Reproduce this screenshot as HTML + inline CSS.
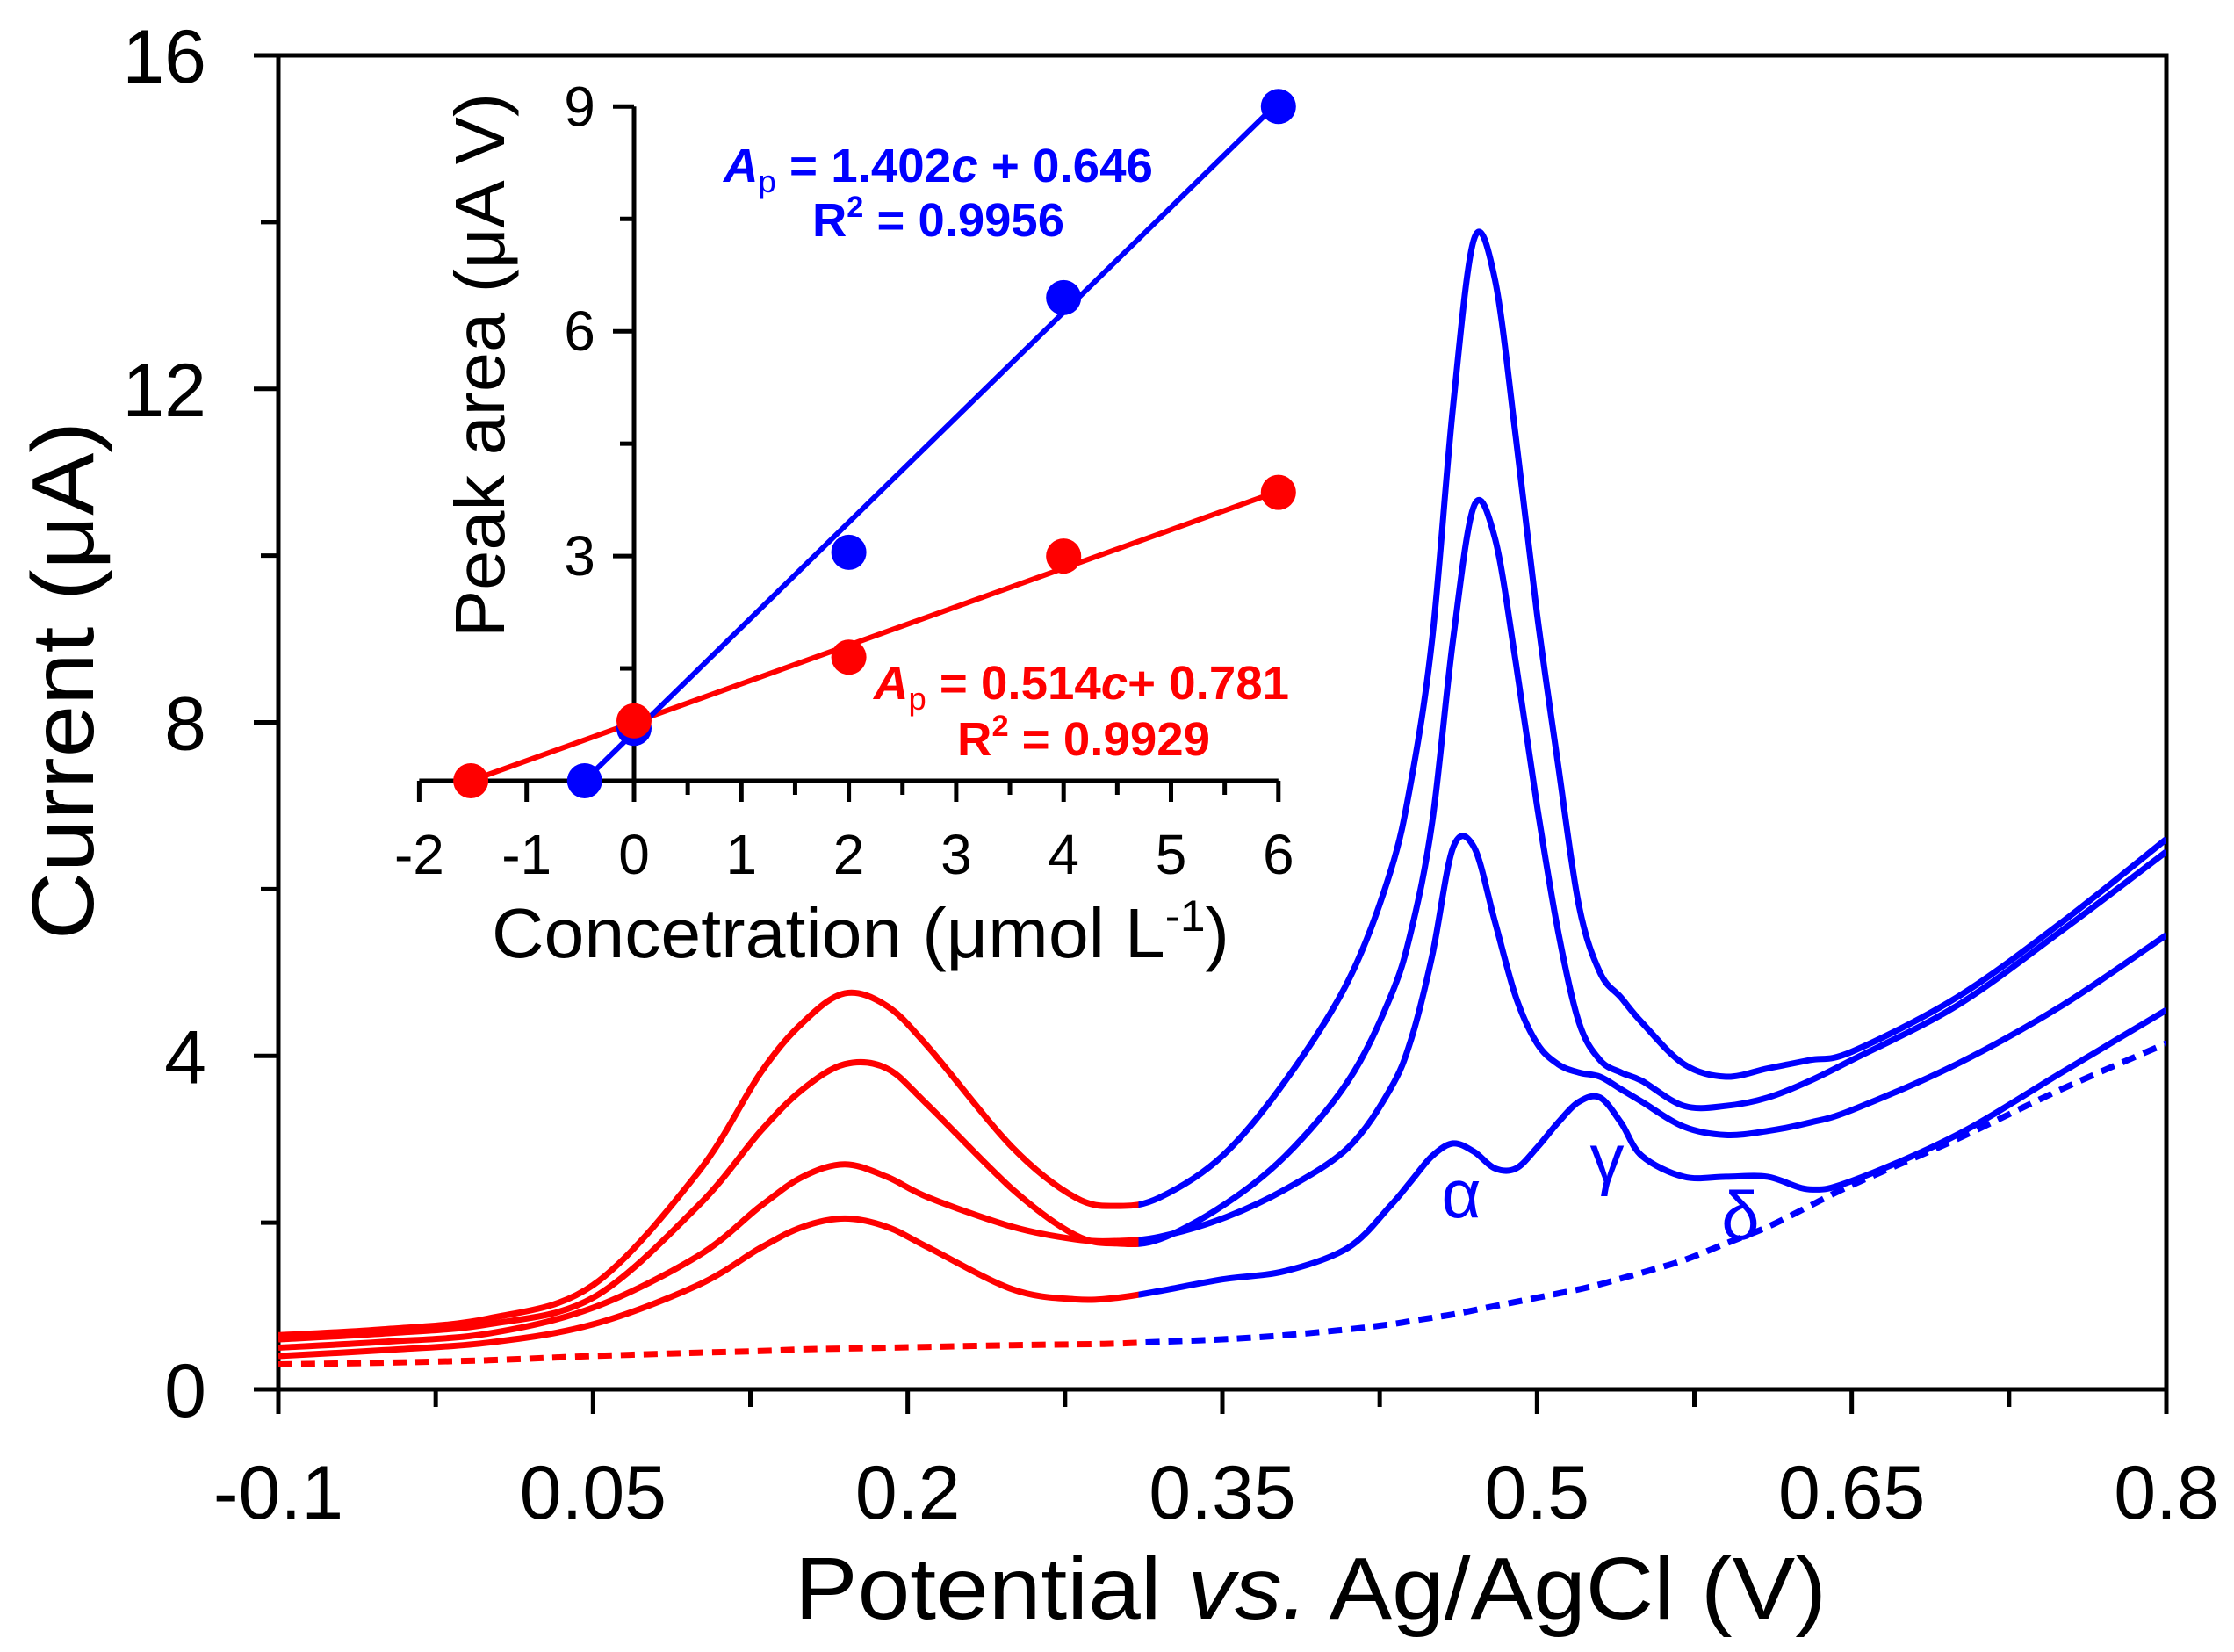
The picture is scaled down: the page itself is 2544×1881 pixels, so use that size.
<!DOCTYPE html>
<html><head><meta charset="utf-8"><style>
html,body{margin:0;padding:0;background:#fff;}
svg{display:block;font-family:"Liberation Sans",Arial,sans-serif;}
</style></head><body>
<svg id="chart" width="2544" height="1881" viewBox="0 0 2544 1881" xmlns="http://www.w3.org/2000/svg">
<g id="main-axes"></g>
<g id="main-series"></g>
<g id="inset"></g>
<text transform="translate(106,775) rotate(-90)" text-anchor="middle" font-size="100" textLength="590" lengthAdjust="spacingAndGlyphs">Current (μA)</text>
<text x="905" y="1843" font-size="100" textLength="1175" lengthAdjust="spacingAndGlyphs">Potential <tspan font-style="italic">vs.</tspan> Ag/AgCl (V)</text>
<text x="1664" y="1386" font-size="78" fill="#0000ff" text-anchor="middle">α</text>
<text x="1830" y="1346" font-size="78" fill="#0000ff" text-anchor="middle">γ</text>
<text x="1982" y="1411" font-size="78" fill="#0000ff" text-anchor="middle">δ</text>
</svg>
<script>
// ---- main chart data ----
const potentials = [-0.1,-0.05,0,0.05,0.1,0.13,0.15,0.17,0.19,0.21,0.25,0.28,0.3,0.32,0.35,0.38,0.41,0.43,0.44,0.45,0.46,0.47,0.48,0.49,0.5,0.51,0.52,0.53,0.54,0.55,0.57,0.59,0.61,0.63,0.65,0.7,0.75,0.8];
const current4 = [0.65,0.72,0.85,1.25,2.6,3.8,4.4,4.75,4.6,4.1,2.9,2.3,2.2,2.3,2.8,3.7,4.9,6.2,7.3,9.0,11.8,13.8,13.3,11.4,9.3,7.5,5.8,5.0,4.7,4.4,3.9,3.75,3.85,3.95,4.05,4.7,5.6,6.6];
const current3 = [0.6,0.67,0.78,1.1,2.2,3.1,3.6,3.9,3.85,3.4,2.4,1.85,1.75,1.8,2.2,2.8,3.7,4.7,5.5,6.8,9.0,10.6,10.2,8.7,7.0,5.5,4.4,3.95,3.8,3.7,3.4,3.4,3.5,3.7,3.95,4.6,5.5,6.45];
const current2 = [0.5,0.57,0.67,0.98,1.6,2.2,2.55,2.7,2.55,2.3,1.95,1.8,1.78,1.83,2.05,2.4,2.9,3.6,4.2,5.2,6.5,6.5,5.6,4.7,4.15,3.9,3.8,3.75,3.6,3.45,3.15,3.05,3.1,3.2,3.35,3.9,4.6,5.45];
const current1 = [0.4,0.47,0.56,0.78,1.25,1.7,1.95,2.05,1.95,1.7,1.2,1.08,1.1,1.18,1.32,1.42,1.7,2.2,2.5,2.8,2.95,2.85,2.65,2.65,2.9,3.2,3.45,3.5,3.2,2.8,2.55,2.55,2.55,2.4,2.5,3.05,3.8,4.55];
const baseline = [0.3,0.32,0.35,0.4,0.44,0.46,0.48,0.49,0.5,0.51,0.53,0.54,0.55,0.57,0.6,0.65,0.72,0.78,0.82,0.86,0.9,0.95,1.0,1.05,1.1,1.15,1.2,1.26,1.33,1.4,1.55,1.75,1.95,2.2,2.45,3.0,3.6,4.15];
const xTicks = [-0.1,0.05,0.2,0.35,0.5,0.65,0.8];
const xTickLabels = ["-0.1","0.05","0.2","0.35","0.5","0.65","0.8"];
const yTicks = [0,4,8,12,16];
const yTickLabels = ["0","4","8","12","16"];
const splitPotential = 0.31;

// ---- inset data ----
const insetXTicks = [-2,-1,0,1,2,3,4,5,6];
const insetYTicks = [0,3,6,9];
const insetYTickLabels = ["","3","6","9"];
const redConc = [-1.52,0,2,4,6];
const redArea = [0,0.8,1.65,3.0,3.85];
const blueConc = [-0.46,0,2,4,6];
const blueArea = [0,0.7,3.05,6.45,9.0];
const redSlope = 0.514, redIntercept = 0.781;
const blueSlope = 1.402, blueIntercept = 0.646;

const NS = "http://www.w3.org/2000/svg";
function mk(tag, attrs, parent){ const e=document.createElementNS(NS,tag); for(const k in attrs) e.setAttribute(k,attrs[k]); parent.appendChild(e); return e; }

const X0=317, X1=2467, Y0=1582, Y1=63;
const sx = v => X0 + (v+0.1)/0.9*(X1-X0);
const sy = v => Y0 - v/16*(Y0-Y1);

const ax = document.getElementById('main-axes');
const frame = mk('rect',{x:X0,y:Y1,width:X1-X0,height:Y0-Y1,fill:'none',stroke:'#000','stroke-width':5},ax);


for(let v=-0.1; v<=0.8001; v+=0.075){
  const major = Math.abs(((v+0.1)/0.15) - Math.round((v+0.1)/0.15))<1e-6;
  const t = mk('line',{x1:sx(v),x2:sx(v),y1:Y0,y2:Y0+(major?28:20),stroke:'#000','stroke-width':5},ax);
  
  
}
xTicks.forEach((v,i)=>{
  const t = mk('text',{x:sx(v),y:1729,'font-size':86,'text-anchor':'middle'},ax);
  t.textContent = xTickLabels[i];
  
  
});
for(let v=0; v<=16; v+=2){
  const t = mk('line',{x1:X0,x2:X0-(v%4===0?28:20),y1:sy(v),y2:sy(v),stroke:'#000','stroke-width':5},ax);
  
  
}
yTicks.forEach((v,i)=>{
  const t = mk('text',{x:235,y:sy(v)+31,'font-size':86,'text-anchor':'end'},ax);
  t.textContent = yTickLabels[i];
  
  
});

function smoothPath(pts){
  let d = `M${pts[0][0].toFixed(1)},${pts[0][1].toFixed(1)}`;
  for(let i=0;i<pts.length-1;i++){
    const p0=pts[Math.max(0,i-1)], p1=pts[i], p2=pts[i+1], p3=pts[Math.min(pts.length-1,i+2)];
    const c1=[p1[0]+(p2[0]-p0[0])/6, p1[1]+(p2[1]-p0[1])/6];
    const c2=[p2[0]-(p3[0]-p1[0])/6, p2[1]-(p3[1]-p1[1])/6];
    d += ` C${c1[0].toFixed(1)},${c1[1].toFixed(1)} ${c2[0].toFixed(1)},${c2[1].toFixed(1)} ${p2[0].toFixed(1)},${p2[1].toFixed(1)}`;
  }
  return d;
}
const ser = document.getElementById('main-series');
const clipR = mk('clipPath',{id:'clipRed'},ser);
mk('rect',{x:X0,y:0,width:sx(splitPotential)-X0,height:1881},clipR);
const clipB = mk('clipPath',{id:'clipBlue'},ser);
mk('rect',{x:sx(splitPotential),y:0,width:X1-sx(splitPotential),height:1881},clipB);
const series = [['baseline',baseline,true],['curve-1',current1,false],['curve-2',current2,false],['curve-3',current3,false],['curve-4',current4,false]];
series.forEach(([name,vals,dashed])=>{
  const pts = potentials.map((p,i)=>[sx(p),sy(vals[i])]);
  const d = smoothPath(pts);
  [['#ff0000','clipRed','red'],['#0000ff','clipBlue','blue']].forEach(([col,clip,cn])=>{
    const a = {d:d,fill:'none',stroke:col,'stroke-width':7,'clip-path':`url(#${clip})`,'stroke-linejoin':'round'};
    if(dashed) a['stroke-dasharray']='16 10';
    const p = mk('path',a,ser);
    
    
  });
});

// inset
const IX0=722, IY0=889;
const ix = v => IX0 + v*122.3;
const iy = v => IY0 - v*85.3;
const ins = document.getElementById('inset');
const ixa = mk('line',{x1:ix(-2),x2:ix(6),y1:IY0,y2:IY0,stroke:'#000','stroke-width':5},ins);


const iya = mk('line',{x1:IX0,x2:IX0,y1:IY0,y2:iy(9),stroke:'#000','stroke-width':5},ins);


for(let v=-2; v<=6.001; v+=0.5){
  const major = Math.abs(v-Math.round(v))<1e-6;
  const t = mk('line',{x1:ix(v),x2:ix(v),y1:IY0,y2:IY0+(major?24:16),stroke:'#000','stroke-width':5},ins);
  
  
}
insetXTicks.forEach(v=>{
  const t = mk('text',{x:ix(v),y:995,'font-size':64,'text-anchor':'middle'},ins);
  t.textContent = String(v);
  
  
});
for(let v=1.5; v<=9.001; v+=1.5){
  const major = v%3===0;
  const t = mk('line',{x1:IX0,x2:IX0-(major?24:16),y1:iy(v),y2:iy(v),stroke:'#000','stroke-width':5},ins);
  
  
}
insetYTicks.forEach((v,i)=>{
  if(!insetYTickLabels[i]) return;
  const t = mk('text',{x:660,y:iy(v)+22,'font-size':64,'text-anchor':'middle'},ins);
  t.textContent = insetYTickLabels[i];
  
  
});
const ixt = mk('text',{x:560,y:1090,'font-size':80,textLength:840,lengthAdjust:'spacingAndGlyphs'},ins);
ixt.innerHTML = 'Concetration (μmol L<tspan dy="-30" font-size="50">-1</tspan><tspan dy="30">)</tspan>';


const iyt = mk('text',{transform:'translate(574,416) rotate(-90)','font-size':80,'text-anchor':'middle',textLength:620,lengthAdjust:'spacingAndGlyphs'},ins);
iyt.textContent = 'Peak area (μA V)';



const rl = mk('line',{x1:ix(redConc[0]),y1:iy(Math.max(0,redSlope*redConc[0]+redIntercept)),x2:ix(6),y2:iy(redSlope*6+redIntercept),stroke:'#ff0000','stroke-width':6},ins);


const bl = mk('line',{x1:ix(blueConc[0]),y1:iy(Math.max(0,blueSlope*blueConc[0]+blueIntercept)),x2:ix(6),y2:iy(blueSlope*6+blueIntercept),stroke:'#0000ff','stroke-width':6},ins);


blueConc.forEach((c,i)=>{
  const m = mk('circle',{cx:ix(c),cy:iy(blueArea[i]),r:20,fill:'#0000ff'},ins);
  
  
});
redConc.forEach((c,i)=>{
  const m = mk('circle',{cx:ix(c),cy:iy(redArea[i]),r:20,fill:'#ff0000'},ins);
  
  
});

function eq(x,y,w,col,html,name){
  const t = mk('text',{x:x,y:y,'font-size':54,'font-weight':'bold',fill:col,textLength:w,lengthAdjust:'spacingAndGlyphs'},ins);
  t.innerHTML = html;
  
  
}
eq(824,207,489,'#0000ff','<tspan font-style="italic">A</tspan><tspan dy="12" font-size="36" font-weight="normal">p</tspan><tspan dy="-12"> = 1.402</tspan><tspan font-style="italic">c</tspan> + 0.646','blue-equation');
eq(925,269,287,'#0000ff','R<tspan dy="-22" font-size="34">2</tspan><tspan dy="22"> = 0.9956</tspan>','blue-r-squared');
eq(995,796,473,'#ff0000','<tspan font-style="italic">A</tspan><tspan dy="12" font-size="36" font-weight="normal">p</tspan><tspan dy="-12"> = 0.514</tspan><tspan font-style="italic">c</tspan>+ 0.781','red-equation');
eq(1090,860,288,'#ff0000','R<tspan dy="-22" font-size="34">2</tspan><tspan dy="22"> = 0.9929</tspan>','red-r-squared');
</script>
</body></html>
